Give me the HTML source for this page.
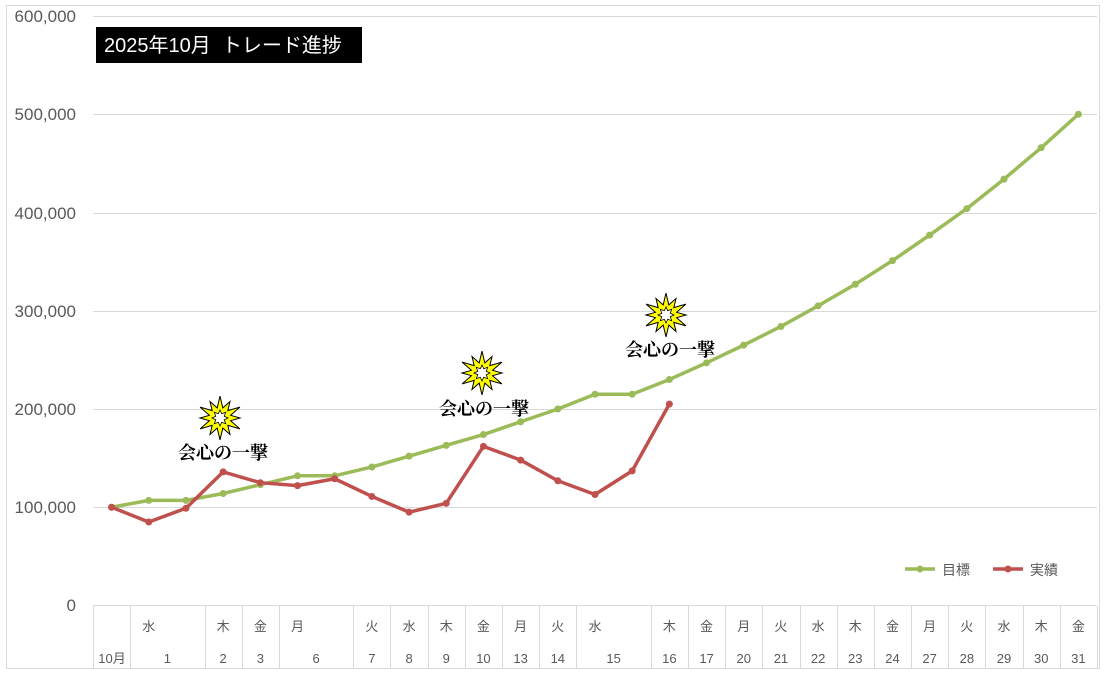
<!DOCTYPE html>
<html><head><meta charset="utf-8"><style>body{margin:0;background:#fff}svg{display:block}</style></head><body>
<svg width="1106" height="673" xmlns="http://www.w3.org/2000/svg" font-family="'Liberation Sans','Noto Sans CJK JP',sans-serif">
<rect x="6.5" y="5.5" width="1093" height="663" fill="#fff" stroke="#d9d9d9"/>
<g stroke="#d9d9d9" stroke-width="1">
<line x1="93" y1="16.5" x2="1097" y2="16.5"/><line x1="93" y1="114.5" x2="1097" y2="114.5"/><line x1="93" y1="213.5" x2="1097" y2="213.5"/><line x1="93" y1="311.5" x2="1097" y2="311.5"/><line x1="93" y1="409.5" x2="1097" y2="409.5"/><line x1="93" y1="507.5" x2="1097" y2="507.5"/><line x1="93" y1="605.5" x2="1097" y2="605.5"/>
</g>
<g fill="#595959" font-size="17" text-anchor="end">
<text x="76" y="22">600,000</text><text x="76" y="120">500,000</text><text x="76" y="219">400,000</text><text x="76" y="317">300,000</text><text x="76" y="415">200,000</text><text x="76" y="513">100,000</text><text x="76" y="611">0</text>
</g>
<g id="tbl" stroke="#d9d9d9"></g>
<g id="lbl" fill="#595959" font-size="13" text-anchor="middle"></g>
<polyline id="g" fill="none" stroke="#9bbb59" stroke-width="3.5" stroke-linejoin="round"/>
<polyline id="r" fill="none" stroke="#c0504d" stroke-width="3.5" stroke-linejoin="round"/>
<g id="gd" fill="#9bbb59"></g><g id="rd" fill="#c0504d"></g>
<rect x="96" y="27" width="266" height="36" fill="#000"/>
<text x="104" y="52" fill="#fff" font-size="20">2025年10月&#160;&#160;トレード進捗</text>
<g id="stars"></g>
<g font-size="18" font-weight="bold" text-anchor="middle" fill="#000" font-family="'Liberation Serif','Noto Serif CJK SC',serif">
<text x="223" y="459">会心の一撃</text><text x="484" y="415">会心の一撃</text><text x="670" y="356">会心の一撃</text>
</g>
<line x1="905" y1="569" x2="935" y2="569" stroke="#9bbb59" stroke-width="3.5"/><circle cx="920" cy="569" r="3.5" fill="#9bbb59"/>
<text x="942" y="575" font-size="14" fill="#595959">目標</text>
<line x1="993" y1="569" x2="1023" y2="569" stroke="#c0504d" stroke-width="3.5"/><circle cx="1008" cy="569" r="3.5" fill="#c0504d"/>
<text x="1030" y="575" font-size="14" fill="#595959">実績</text>
</svg>
<script>
const ns="http://www.w3.org/2000/svg",W=37.185,X0=93;
const cx=i=>X0+W*(i+0.5), cy=v=>605.5-v*0.9825;
const G=[100,107,107,114,123,132,132,141,152,163,174,187,200,215,215,230,247,265,284,305,327,351,377,404,434,466,500];
const R=[100,85,99,136,125,122,129,111,95,104,162,148,127,113,137,205];
function el(t,a,p,txt){const e=document.createElementNS(ns,t);for(const k in a)e.setAttribute(k,a[k]);if(txt)e.textContent=txt;document.getElementById(p).appendChild(e);return e}
document.getElementById('g').setAttribute('points',G.map((v,i)=>cx(i)+','+cy(v)).join(' '));
document.getElementById('r').setAttribute('points',R.map((v,i)=>cx(i)+','+cy(v)).join(' '));
G.forEach((v,i)=>el('circle',{cx:cx(i),cy:cy(v),r:3.5},'gd'));
R.forEach((v,i)=>el('circle',{cx:cx(i),cy:cy(v),r:3.5},'rd'));
const cells=[[0,1,'','10月'],[1,2,'水','1'],[3,1,'木','2'],[4,1,'金','3'],[5,2,'月','6'],[7,1,'火','7'],[8,1,'水','8'],[9,1,'木','9'],[10,1,'金','10'],[11,1,'月','13'],[12,1,'火','14'],[13,2,'水','15'],[15,1,'木','16'],[16,1,'金','17'],[17,1,'月','20'],[18,1,'火','21'],[19,1,'水','22'],[20,1,'木','23'],[21,1,'金','24'],[22,1,'月','27'],[23,1,'火','28'],[24,1,'水','29'],[25,1,'木','30'],[26,1,'金','31']];
el('line',{x1:93.5,y1:606,x2:93.5,y2:668},'tbl');
cells.forEach(([s,n,w,d])=>{const xe=Math.round(X0+W*(s+n))+0.5;el('line',{x1:xe,y1:606,x2:xe,y2:668},'tbl');
if(w)el('text',{x:cx(s),y:631},'lbl',w);
if(s==0)el('text',{x:112,y:663},'lbl',d);else el('text',{x:X0+W*(s+n/2),y:663},'lbl',d);});
function star(x,y){let p=[];for(let i=0;i<24;i++){const a=i*Math.PI/12-Math.PI/2,r=i%2?11:(i%4?20:23);p.push((x+r*Math.cos(a)).toFixed(1)+','+(y+r*Math.sin(a)*0.95).toFixed(1))}
el('polygon',{points:p.join(' '),fill:'#ffff00',stroke:'#000','stroke-width':1},'stars');
let q=[];for(let i=0;i<16;i++){const a=i*Math.PI/8,r=i%2?4.5:8;q.push((x+r*Math.cos(a)).toFixed(1)+','+(y+r*Math.sin(a)).toFixed(1))}
el('polygon',{points:q.join(' '),fill:'#fff',stroke:'#000','stroke-width':0.8},'stars');}
star(220,418);star(482,373);star(666,315);
</script>
</body></html>
